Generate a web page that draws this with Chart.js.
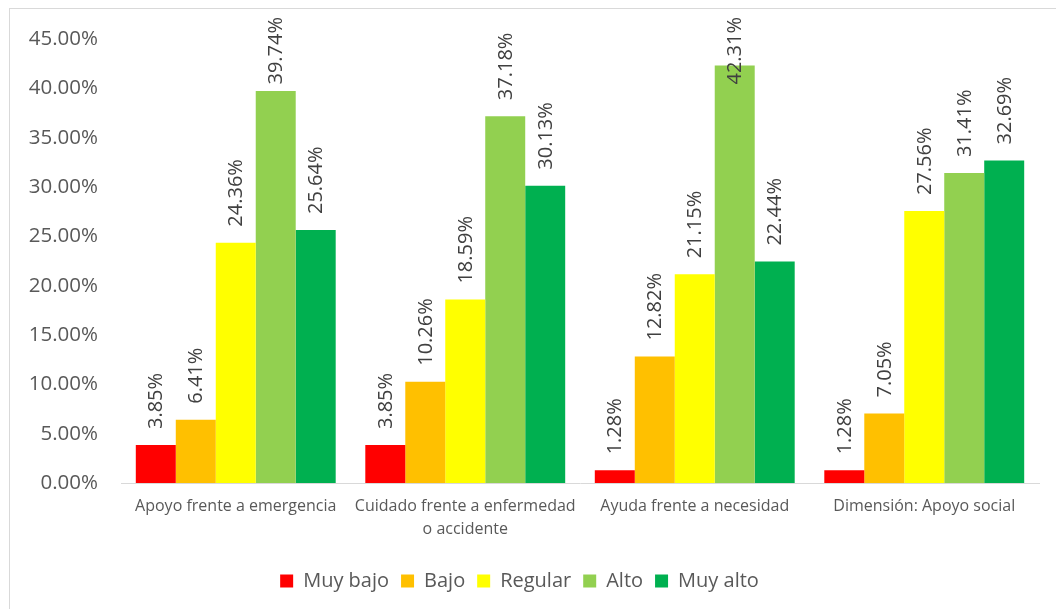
<!DOCTYPE html>
<html>
<head>
<meta charset="utf-8">
<script src="https://cdn.jsdelivr.net/npm/chart.js@4/dist/chart.umd.min.js"></script>
<style>
  html, body { margin: 0; padding: 0; background: #fff; }
  #wrap { width: 1056px; height: 609px; position: relative; }
</style>
</head>
<body>
<div id="wrap"><canvas id="chart"></canvas></div>
<script>
const categories = [
  "Apoyo frente a emergencia",
  ["Cuidado frente a enfermedad", "o accidente"],
  "Ayuda frente a necesidad",
  "Dimensión: Apoyo social"
]
const muyBajo = [3.85, 3.85, 1.28, 1.28]
const bajo = [6.41, 10.26, 12.82, 7.05]
const regular = [24.36, 18.59, 21.15, 27.56]
const alto = [39.74, 37.18, 42.31, 31.41]
const muyAlto = [25.64, 30.13, 22.44, 32.69]
const seriesNames = ["Muy bajo", "Bajo", "Regular", "Alto", "Muy alto"]
const seriesColors = ["#FF0000", "#FFC000", "#FFFF00", "#92D050", "#00B050"]
const yTicks = [0, 5, 10, 15, 20, 25, 30, 35, 40, 45]

const FONT = '"Open Sans", sans-serif'

// frame round the chart, like the spreadsheet chart border
const frame = {
  id: 'frame',
  beforeDraw(chart) {
    let ctx = chart.ctx
    ctx.save()
    ctx.strokeStyle = '#d9d9d9'
    ctx.lineWidth = 1
    ctx.strokeRect(9.5, 8.5, 1200, 800)
    ctx.restore()
  }
}

// rotated value labels above each bar (pushed down when they would leave the top)
const barLabels = {
  id: 'barLabels',
  afterDatasetsDraw(chart) {
    let ctx = chart.ctx
    ctx.save()
    ctx.font = '20px ' + FONT
    ctx.fillStyle = '#404040'
    ctx.textAlign = 'left'
    ctx.textBaseline = 'middle'
    chart.data.datasets.forEach((ds, i) => {
      chart.getDatasetMeta(i).data.forEach((bar, j) => {
        let text = ds.data[j].toFixed(2) + '%'
        let w = ctx.measureText(text).width
        let start = Math.max(bar.y - 16, 17 + w)
        ctx.save()
        ctx.translate(bar.x, start)
        ctx.rotate(-Math.PI / 2)
        ctx.fillText(text, 0, 1)
        ctx.restore()
      })
    })
    ctx.restore()
  }
}

const allSeries = [muyBajo, bajo, regular, alto, muyAlto]

const data = {
  labels: categories,
  datasets: allSeries.map((values, i) => ({
    label: seriesNames[i],
    data: values,
    backgroundColor: seriesColors[i],
    borderWidth: 0,
    categoryPercentage: 0.871,
    barPercentage: 1
  }))
}

const myChart = new Chart('chart', {
  type: 'bar',
  data: data,
  plugins: [frame, barLabels],
  options: {
    responsive: true,
    maintainAspectRatio: false,
    animation: false,
    layout: { padding: { left: 0, top: 39, right: 17, bottom: 8 } },
    plugins: {
      tooltip: { enabled: false },
      legend: {
        position: 'bottom',
        labels: {
          boxWidth: 13,
          boxHeight: 13,
          padding: 12,
          color: '#595959',
          font: { family: FONT, size: 20 }
        }
      }
    },
    scales: {
      x: {
        grid: { display: false, drawTicks: false },
        border: { display: true, color: '#d9d9d9', width: 1 },
        ticks: {
          color: '#595959',
          padding: 12,
          maxRotation: 0,
          autoSkip: false,
          font: { family: FONT, size: 16, lineHeight: 1.42 }
        },
        afterFit: scale => { scale.height = 76 }
      },
      y: {
        min: 0,
        max: 45,
        afterBuildTicks: scale => { scale.ticks = yTicks.map(v => ({ value: v })) },
        grid: { display: false, drawTicks: false },
        border: { display: false },
        ticks: {
          color: '#595959',
          padding: 23,
          font: { family: FONT, size: 20.5 },
          callback: v => v.toFixed(2) + '%'
        },
        afterFit: scale => { scale.width = 121 }
      }
    }
  }
})
</script>
</body>
</html>
